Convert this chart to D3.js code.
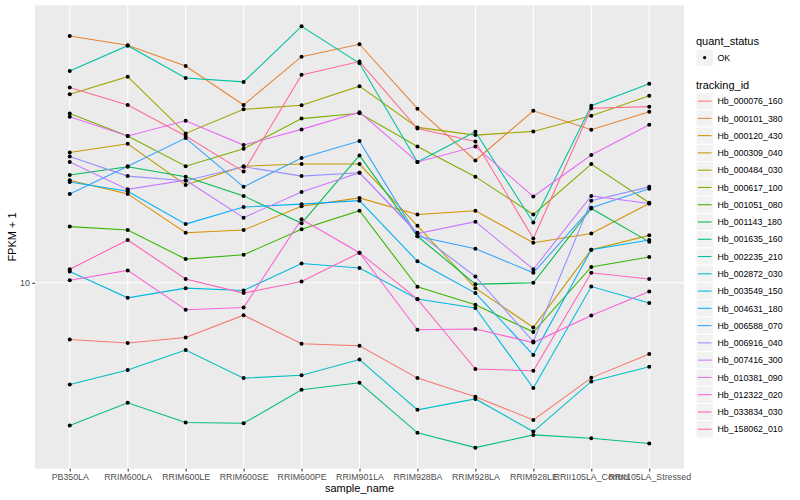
<!DOCTYPE html>
<html>
<head>
<meta charset="utf-8">
<script src="https://cdnjs.cloudflare.com/ajax/libs/d3/7.8.5/d3.min.js"></script>
<style>
  body { margin: 0; background: #fff; }
  text { font-family: "Liberation Sans", Arial, Helvetica, sans-serif; }
</style>
</head>
<body>
<svg id="chart" width="800" height="500"></svg>
<script>
// categories on the x axis
const samples = ["PB350LA", "RRIM600LA", "RRIM600LE", "RRIM600SE", "RRIM600PE", "RRIM901LA",
  "RRIM928BA", "RRIM928LA", "RRIM928LE", "RRII105LA_Control", "RRII105LA_Stressed"];

const trackingIds = ["Hb_000076_160", "Hb_000101_380", "Hb_000120_430", "Hb_000309_040", "Hb_000484_030",
  "Hb_000617_100", "Hb_001051_080", "Hb_001143_180", "Hb_001635_160", "Hb_002235_210",
  "Hb_002872_030", "Hb_003549_150", "Hb_004631_180", "Hb_006588_070", "Hb_006916_040",
  "Hb_007416_300", "Hb_010381_090", "Hb_012322_020", "Hb_033834_030", "Hb_158062_010"];

// FPKM + 1, one array per gene, in sample order
const hb_000076_160 = [6.47, 6.30, 6.57, 7.80, 6.26, 6.17, 4.81, 4.17, 3.49, 4.82, 5.79];
const hb_000101_380 = [66.6, 62.0, 52.9, 39.2, 56.8, 62.5, 38.1, 25.6, 37.5, 32.4, 37.2];
const hb_000120_430 = [22.0, 19.8, 14.7, 15.0, 18.0, 19.2, 16.9, 17.4, 13.6, 14.6, 18.4];
const hb_000309_040 = [27.2, 29.1, 21.2, 24.5, 24.9, 24.9, 15.5, 9.60, 7.10, 12.9, 14.4];
const hb_000484_030 = [42.6, 48.7, 31.5, 37.9, 39.1, 45.3, 33.0, 31.1, 32.0, 36.1, 42.1];
const hb_000617_100 = [36.7, 30.9, 24.5, 28.0, 35.3, 36.8, 28.5, 22.6, 16.9, 24.9, 18.5];
const hb_001051_080 = [15.4, 15.0, 12.0, 12.4, 15.1, 17.4, 9.70, 8.45, 6.85, 11.3, 12.2];
const hb_001143_180 = [22.9, 24.4, 22.6, 19.5, 15.8, 26.6, 14.3, 9.90, 10.0, 17.7, 13.7];
const hb_001635_160 = [3.34, 3.98, 3.42, 3.40, 4.40, 4.64, 3.16, 2.82, 3.11, 3.03, 2.91];
const hb_002235_210 = [50.9, 61.8, 48.2, 46.8, 71.7, 54.0, 25.3, 31.9, 15.9, 39.0, 46.1];
const hb_002872_030 = [4.58, 5.12, 5.97, 4.81, 4.92, 5.55, 3.77, 4.10, 3.19, 4.69, 5.25];
const hb_003549_150 = [10.9, 8.91, 9.60, 9.43, 11.6, 11.2, 8.83, 8.24, 4.46, 9.72, 8.56];
const hb_004631_180 = [21.7, 20.2, 15.7, 17.9, 18.3, 18.8, 11.8, 9.24, 5.75, 12.9, 13.9];
const hb_006588_070 = [19.8, 24.5, 30.4, 20.9, 26.1, 29.7, 14.3, 13.0, 10.8, 17.8, 20.6];
const hb_006916_040 = [26.4, 22.7, 21.9, 24.4, 22.7, 23.3, 14.7, 10.5, 6.37, 18.8, 20.9];
const hb_007416_300 = [25.3, 20.5, 22.0, 16.5, 20.1, 23.3, 14.6, 16.0, 11.1, 19.5, 18.4];
const hb_010381_090 = [35.8, 30.9, 34.7, 28.8, 32.5, 37.1, 25.3, 28.5, 19.4, 26.7, 33.7];
const hb_012322_020 = [10.2, 11.0, 8.13, 8.27, 16.3, 12.6, 6.97, 7.01, 6.32, 7.78, 9.35];
const hb_033834_030 = [11.1, 13.9, 10.3, 9.24, 10.1, 12.6, 8.82, 5.16, 5.09, 10.8, 10.3];
const hb_158062_010 = [44.8, 39.2, 30.9, 23.5, 49.4, 54.7, 32.7, 29.6, 14.05, 38.2, 38.7];

const seriesValues = [hb_000076_160, hb_000101_380, hb_000120_430, hb_000309_040, hb_000484_030,
  hb_000617_100, hb_001051_080, hb_001143_180, hb_001635_160, hb_002235_210,
  hb_002872_030, hb_003549_150, hb_004631_180, hb_006588_070, hb_006916_040,
  hb_007416_300, hb_010381_090, hb_012322_020, hb_033834_030, hb_158062_010];

const yTicks = [10];

// ggplot default hue palette for 20 groups
const palette = ["#F8766D", "#EA8331", "#D89000", "#C09B00", "#A3A500", "#7CAE00", "#39B600", "#00BB4E",
  "#00BF7D", "#00C1A3", "#00BFC4", "#00BAE0", "#00B0F6", "#35A2FF", "#9590FF", "#C77CFF",
  "#E76BF3", "#FA62DB", "#FF62BC", "#FF6C91"];

const series = trackingIds.map((id, i) => ({
  id: id,
  values: samples.map((s, j) => ({ sample: s, value: seriesValues[i][j] }))
}));

let svg = d3.select("#chart"),
    panel = {left: 35, top: 5.3, right: 684, bottom: 468.7};

let x = d3.scalePoint().domain(samples).range([panel.left, panel.right]).padding(0.6);

// log scale with ggplot's 5% expansion
let allVals = seriesValues.flat();
let lmin = Math.log10(d3.min(allVals)), lmax = Math.log10(d3.max(allVals));
let ext = (lmax - lmin) * 0.05;
let y = d3.scaleLog()
    .domain([Math.pow(10, lmin - ext), Math.pow(10, lmax + ext)])
    .range([panel.bottom, panel.top]);

let color = d3.scaleOrdinal().domain(trackingIds).range(palette);

// panel background
svg.append("rect")
    .attr("x", panel.left).attr("y", panel.top)
    .attr("width", panel.right - panel.left)
    .attr("height", panel.bottom - panel.top)
    .attr("fill", "#EBEBEB");

// grid lines
let grid = svg.append("g").attr("class", "grid");
grid.selectAll(".vgrid")
    .data(samples)
    .enter().append("line")
    .attr("x1", d => x(d)).attr("x2", d => x(d))
    .attr("y1", panel.top).attr("y2", panel.bottom)
    .attr("stroke", "#fff").attr("stroke-width", 1.07);
grid.selectAll(".hgrid")
    .data(yTicks)
    .enter().append("line")
    .attr("x1", panel.left).attr("x2", panel.right)
    .attr("y1", d => y(d)).attr("y2", d => y(d))
    .attr("stroke", "#fff").attr("stroke-width", 1.07);

// lines
let line = d3.line().x(d => x(d.sample)).y(d => y(d.value));
svg.append("g").selectAll("path")
    .data(series)
    .enter().append("path")
    .attr("d", d => line(d.values))
    .attr("fill", "none")
    .attr("stroke", d => color(d.id))
    .attr("stroke-width", 1.07);

// points
svg.append("g").selectAll("g")
    .data(series)
    .enter().append("g")
    .selectAll("circle")
    .data(d => d.values)
    .enter().append("circle")
    .attr("cx", d => x(d.sample))
    .attr("cy", d => y(d.value))
    .attr("r", 2)
    .attr("fill", "#000");

// axes
let xAxis = svg.append("g")
    .attr("transform", "translate(0," + panel.bottom + ")")
    .call(d3.axisBottom(x).tickSize(2.7).tickPadding(2.5));
let yAxis = svg.append("g")
    .attr("transform", "translate(" + panel.left + ",0)")
    .call(d3.axisLeft(y).tickValues(yTicks).tickFormat(d3.format("d")).tickSize(2.7).tickPadding(2.5));
[xAxis, yAxis].forEach(a => {
  a.select(".domain").remove();
  a.selectAll(".tick line").attr("stroke", "#333333").attr("stroke-width", 1.07);
  a.selectAll(".tick text")
      .attr("fill", "#4D4D4D")
      .style("font-size", "8.8px")
      .style("font-family", "'Liberation Sans', Arial, sans-serif");
});

// axis titles
svg.append("text")
    .attr("x", (panel.left + panel.right) / 2)
    .attr("y", 492)
    .attr("text-anchor", "middle")
    .style("font-size", "11px")
    .text("sample_name");
svg.append("text")
    .attr("transform", "translate(16," + ((panel.top + panel.bottom) / 2) + ") rotate(-90)")
    .attr("text-anchor", "middle")
    .style("font-size", "11px")
    .text("FPKM + 1");

// legend: quant_status
let legend = svg.append("g").attr("transform", "translate(696,0)");
legend.append("text").attr("x", 0).attr("y", 44.5).style("font-size", "11px").text("quant_status");
legend.append("rect").attr("x", 0).attr("y", 49).attr("width", 17.3).attr("height", 17.3)
    .attr("fill", "#F2F2F2").attr("stroke", "#fff");
legend.append("circle").attr("cx", 8.6).attr("cy", 57.6).attr("r", 1.6).attr("fill", "#000");
legend.append("text").attr("x", 21.5).attr("y", 60.6).style("font-size", "8.8px").text("OK");

// legend: tracking_id
legend.append("text").attr("x", 0).attr("y", 89).style("font-size", "11px").text("tracking_id");
let keys = legend.selectAll(".key")
    .data(trackingIds)
    .enter().append("g")
    .attr("class", "key")
    .attr("transform", (d, i) => "translate(0," + (92.5 + i * 17.27) + ")");
keys.append("rect").attr("width", 17.3).attr("height", 17.3)
    .attr("fill", "#F2F2F2").attr("stroke", "#fff");
keys.append("line").attr("x1", 1.7).attr("x2", 15.6).attr("y1", 8.6).attr("y2", 8.6)
    .attr("stroke", d => color(d)).attr("stroke-width", 1.07);
keys.append("text").attr("x", 21.5).attr("y", 11.8).style("font-size", "8.8px").text(d => d);
</script>
</body>
</html>
